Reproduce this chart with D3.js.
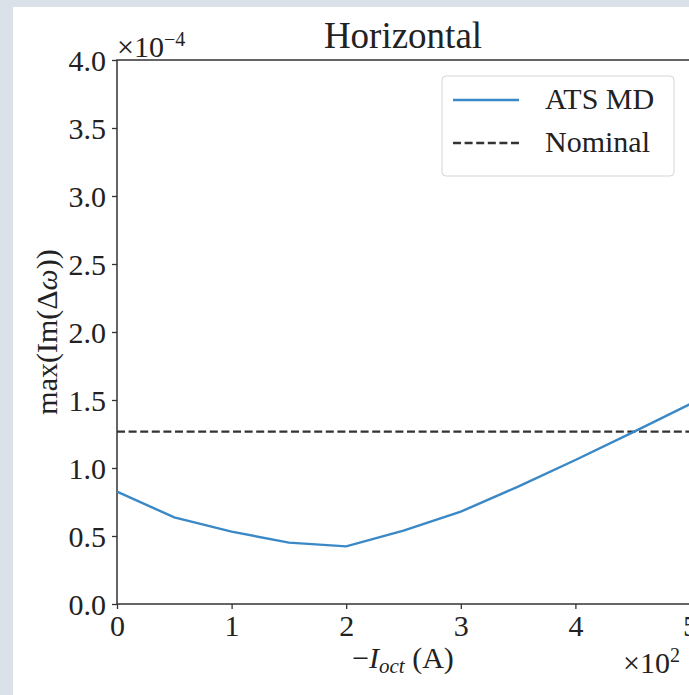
<!DOCTYPE html>
<html>
<head>
<meta charset="utf-8">
<script src="https://cdn.jsdelivr.net/npm/d3@7"></script>
<style>
  html, body { margin: 0; padding: 0; background: #dae1e8; }
  svg { display: block; }
  text { font-family: "Liberation Serif", "DejaVu Serif", serif; fill: #222; }
</style>
</head>
<body>
<svg id="chart" width="689" height="695"></svg>
<script>
// Octupole current (in units of 100 A) and growth-rate maxima (in units of 1e-4)
const currents = [0, 0.5, 1, 1.5, 2, 2.5, 3, 3.5, 4, 4.5, 5];
const atsMD = [0.826, 0.637, 0.532, 0.451, 0.424, 0.54, 0.679, 0.863, 1.059, 1.262, 1.47];
const nominal = 1.267;
const xTicks = [0, 1, 2, 3, 4, 5];
const yTicks = [0, 0.5, 1, 1.5, 2, 2.5, 3, 3.5, 4];
const seriesNames = ["ATS MD", "Nominal"];

const svg = d3.select("#chart");
const plotLeft = 117, plotRight = 690, plotTop = 60, plotBottom = 604;

// white figure area
svg.append("rect").attr("x", 13).attr("y", 7).attr("width", 700).attr("height", 700).attr("fill", "#fff");

const x = d3.scaleLinear().domain([0, 5]).range([plotLeft, plotRight]);
const y = d3.scaleLinear().domain([0, 4]).range([plotBottom, plotTop]);

const fs = 30;

// axes
const xAxis = svg.append("g").attr("transform", `translate(0,${plotBottom})`)
  .call(d3.axisBottom(x).tickValues(xTicks).tickFormat(d3.format("d")).tickSize(5).tickPadding(6));
const yAxis = svg.append("g").attr("transform", `translate(${plotLeft},0)`)
  .call(d3.axisLeft(y).tickValues(yTicks).tickFormat(d3.format(".1f")).tickSize(5).tickPadding(6));
[xAxis, yAxis].forEach(g => {
  g.select(".domain").remove();
  g.selectAll(".tick line").attr("stroke", "#333").attr("stroke-width", 1.3);
  g.selectAll(".tick text").attr("font-size", fs).attr("font-family", "Liberation Serif").attr("fill", "#222");
});
xAxis.selectAll(".tick text").attr("dy", "0.7em");
yAxis.selectAll(".tick text").attr("dy", "0.34em");

// spines
svg.append("rect").attr("x", plotLeft).attr("y", plotTop).attr("width", plotRight - plotLeft).attr("height", plotBottom - plotTop)
  .attr("fill", "none").attr("stroke", "#333").attr("stroke-width", 1.5);

// nominal reference
svg.append("line").attr("x1", plotLeft).attr("x2", plotRight).attr("y1", y(nominal)).attr("y2", y(nominal))
  .attr("stroke", "#333").attr("stroke-width", 2.3).attr("stroke-dasharray", "8,3.6");

// ATS MD curve
const line = d3.line().x((d, i) => x(currents[i])).y(d => y(d));
svg.append("path").datum(atsMD).attr("d", line)
  .attr("fill", "none").attr("stroke", "#3a88c5").attr("stroke-width", 2.4);

// title
svg.append("text").attr("x", (plotLeft + 689) / 2).attr("y", 48).attr("text-anchor", "middle")
  .attr("font-size", 37).text("Horizontal");

// axis multipliers
const yMul = svg.append("text").attr("x", plotLeft).attr("y", 57).attr("font-size", fs);
yMul.append("tspan").text("×10");
yMul.append("tspan").attr("dy", -11).attr("font-size", 20).text("−4");

const xMul = svg.append("text").attr("x", 623).attr("y", 673).attr("font-size", fs);
xMul.append("tspan").text("×10");
xMul.append("tspan").attr("dy", -11).attr("font-size", 20).text("2");

// axis labels
const xl = svg.append("text").attr("x", 403).attr("y", 668).attr("text-anchor", "middle").attr("font-size", fs);
xl.append("tspan").text("−");
xl.append("tspan").attr("font-style", "italic").text("I");
xl.append("tspan").attr("font-style", "italic").attr("font-size", 21).attr("dy", 5).text("oct");
xl.append("tspan").attr("dy", -5).text(" (A)");

const yl = svg.append("text").attr("transform", `translate(57,${(plotTop + plotBottom) / 2}) rotate(-90)`)
  .attr("text-anchor", "middle").attr("font-size", fs);
yl.append("tspan").text("max(Im(Δ");
yl.append("tspan").attr("font-style", "italic").text("ω");
yl.append("tspan").text("))");

// legend
const lg = svg.append("g");
lg.append("rect").attr("x", 442).attr("y", 76).attr("width", 232).attr("height", 100).attr("rx", 4)
  .attr("fill", "#fff").attr("fill-opacity", 0.8).attr("stroke", "#d4d4d4").attr("stroke-width", 1);
const rows = [
  { name: seriesNames[0], y: 100, stroke: "#3a88c5", dash: null, w: 2.4 },
  { name: seriesNames[1], y: 143, stroke: "#333", dash: "8,3.6", w: 2.3 }
];
rows.forEach(r => {
  lg.append("line").attr("x1", 453).attr("x2", 519).attr("y1", r.y).attr("y2", r.y)
    .attr("stroke", r.stroke).attr("stroke-width", r.w).attr("stroke-dasharray", r.dash);
  lg.append("text").attr("x", 545).attr("y", r.y + 9).attr("font-size", fs).text(r.name);
});
</script>
</body>
</html>
